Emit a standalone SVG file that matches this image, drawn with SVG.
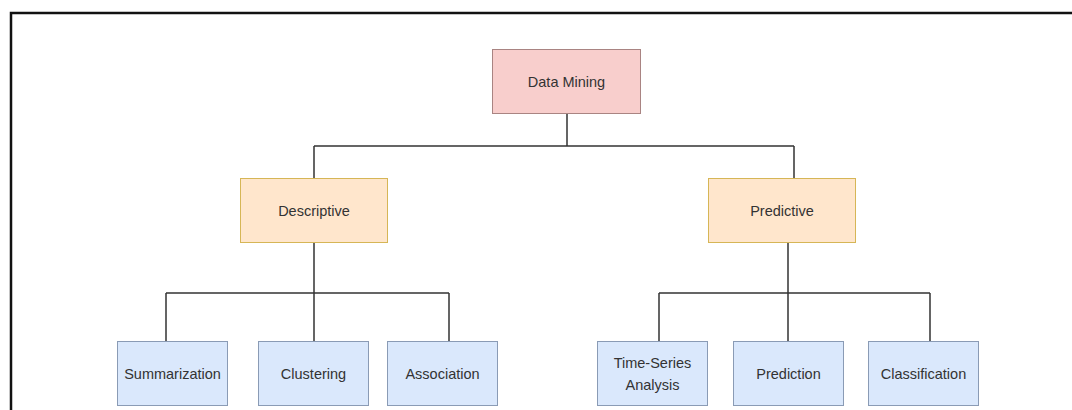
<svg xmlns="http://www.w3.org/2000/svg" width="1072" height="410" viewBox="0 0 1072 410">
<style>
  .lbl { font-family: "Liberation Sans", Arial, sans-serif; font-size: 14.5px; fill: #333; text-anchor: middle; dominant-baseline: central; }
  .red { fill: #f8cecc; stroke: #a98482; stroke-width: 1; }
  .orange { fill: #ffe6cc; stroke: #d6b656; stroke-width: 1; }
  .blue { fill: #dae8fc; stroke: #8a9bb5; stroke-width: 1; }
  .conn { fill: none; stroke: #333; stroke-width: 1.5; }
</style>
<rect width="1072" height="410" fill="#fff"/>
<path d="M11 410 V13 H1072" fill="none" stroke="#111" stroke-width="2.5"/>
<g id="connectors">
  <path class="conn" d="M567 114 V146 M314 146 H794 M314 146 V178 M794 146 V178"/>
  <path class="conn" d="M314 243 V293 M166 293 H449 M166 293 V341 M314 293 V341 M449 293 V341"/>
  <path class="conn" d="M788 243 V293 M659 293 H930 M659 293 V341 M788 293 V341 M930 293 V341"/>
</g>
<g id="data-mining">
  <rect class="red" x="492.5" y="49.5" width="148" height="64"/>
  <text class="lbl" x="566.5" y="82">Data Mining</text>
</g>
<g id="descriptive">
  <rect class="orange" x="240.5" y="178.5" width="147" height="64"/>
  <text class="lbl" x="314" y="211">Descriptive</text>
</g>
<g id="predictive">
  <rect class="orange" x="708.5" y="178.5" width="147" height="64"/>
  <text class="lbl" x="782" y="211">Predictive</text>
</g>
<g id="summarization">
  <rect class="blue" x="117.5" y="341.5" width="110" height="64"/>
  <text class="lbl" x="172.5" y="374">Summarization</text>
</g>
<g id="clustering">
  <rect class="blue" x="258.5" y="341.5" width="110" height="64"/>
  <text class="lbl" x="313.5" y="374">Clustering</text>
</g>
<g id="association">
  <rect class="blue" x="387.5" y="341.5" width="110" height="64"/>
  <text class="lbl" x="442.5" y="374">Association</text>
</g>
<g id="time-series">
  <rect class="blue" x="597.5" y="341.5" width="110" height="64"/>
  <text class="lbl" x="652.5" y="363">Time-Series</text>
  <text class="lbl" x="652.5" y="385">Analysis</text>
</g>
<g id="prediction">
  <rect class="blue" x="733.5" y="341.5" width="110" height="64"/>
  <text class="lbl" x="788.5" y="374">Prediction</text>
</g>
<g id="classification">
  <rect class="blue" x="868.5" y="341.5" width="110" height="64"/>
  <text class="lbl" x="923.5" y="374">Classification</text>
</g>
</svg>
